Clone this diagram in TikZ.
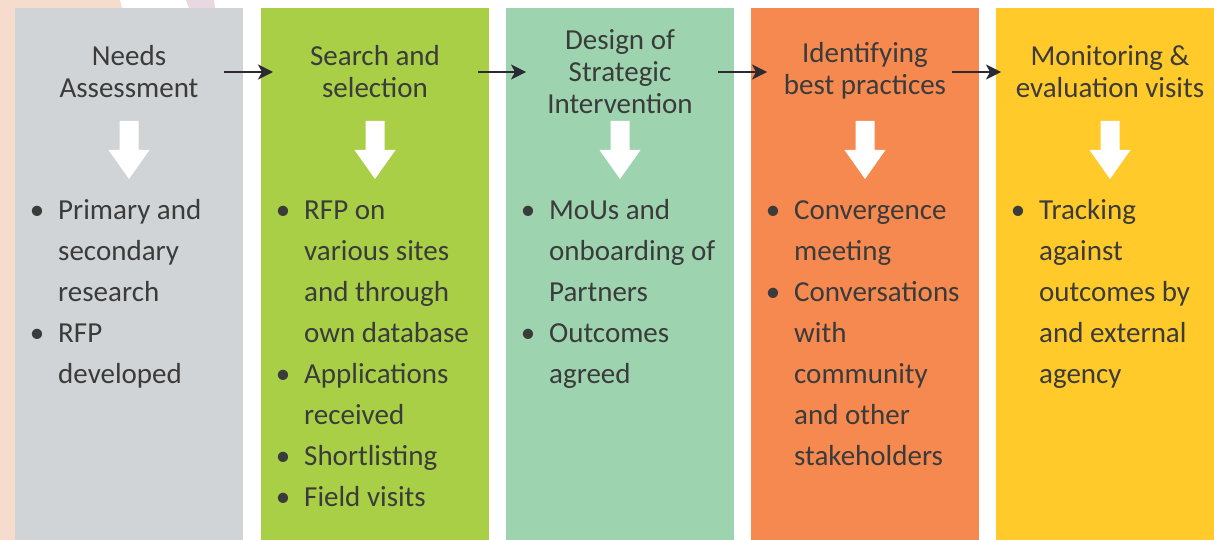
\documentclass[tikz,border=0pt]{standalone}
\usepackage{fontspec}
\setmainfont{Carlito}
\usetikzlibrary{arrows.meta}

\definecolor{peach}{HTML}{F6DCCC}
\definecolor{pinkish}{HTML}{E8D8E0}
\definecolor{colgray}{HTML}{D0D4D7}
\definecolor{colgreen}{HTML}{A9CF46}
\definecolor{colmint}{HTML}{9DD4AF}
\definecolor{colorange}{HTML}{F5894F}
\definecolor{colyellow}{HTML}{FFCA2A}
\definecolor{txt}{HTML}{3B3B3B}
\definecolor{arr}{HTML}{2B2A33}

\tikzset{
	head/.style={font=\fontsize{29}{32}\selectfont, text=txt, align=center, inner sep=0pt},
	items/.style={font=\fontsize{29}{41}\selectfont, text=txt, align=left, inner sep=0pt, anchor=north west},
	flow/.style={draw=arr, line width=1.3pt, -{Stealth[length=15pt,width=15pt,inset=4pt]}},
}
\newcommand\bl{\makebox[42pt]{\textbullet}}
\newcommand\ind{\hspace*{42pt}}

\begin{document}
\begin{tikzpicture}[x=1pt,y=-1pt]
	\useasboundingbox (0,0) rectangle (1214,540);
	
	%background
	\fill[peach] (0,0)--(120,0)--(122,8)--(15,8)--(15,540)--(0,540)--cycle;
	\fill[pinkish] (186,0)--(214,0)--(215,8)--(189,8)--cycle;
	
	%columns
	\fill[colgray]   (15,8)  rectangle (243,540);
	\fill[colgreen]  (261,8) rectangle (489,540);
	\fill[colmint]   (506,8) rectangle (734,540);
	\fill[colorange] (751,8) rectangle (979,540);
	\fill[colyellow] (996,8) rectangle (1224,540);
	
	%white arrows
	\foreach \cx in {129,375,620,865,1110}
		\fill[white] (\cx-9.5,121)--(\cx+9.5,121)--(\cx+9.5,150)--(\cx+20.5,150)
			--(\cx,179)--(\cx-20.5,150)--(\cx-9.5,150)--cycle;
	
	%titles
	\node[head] (needs)  at (129,71.5)  {Needs\\Assessment};
	\node[head] (search) at (375,71.5)  {Search and\\selection};
	\node[head] (design) at (620,72)    {Design of\\Strategic\\Intervention};
	\node[head] (ident)  at (865,70.5)  {Identifying\\best practices};
	\node[head] (monit)  at (1110,71.5) {Monitoring \&\\evaluation visits};
	
	%arrows
	\coordinate (needs-out)  at (224,72);
	\coordinate (search-in)  at (273,72);
	\coordinate (search-out) at (478,72);
	\coordinate (design-in)  at (526,72);
	\coordinate (design-out) at (718,72);
	\coordinate (ident-in)   at (767,72);
	\coordinate (ident-out)  at (952,72);
	\coordinate (monit-in)   at (1001,72);
	\draw[flow] (needs-out)--(search-in);
	\draw[flow] (search-out)--(design-in);
	\draw[flow] (design-out)--(ident-in);
	\draw[flow] (ident-out)--(monit-in);
	
	%lists
	\node[items] (needs-list) at (16,190.5)
		{\strut\bl Primary and\\ \ind secondary\\ \ind research\\ \bl RFP\\ \ind developed};
	\node[items] (search-list) at (262,190.5)
		{\strut\bl RFP on\\ \ind various sites\\ \ind and through\\ \ind own database\\
		 \bl Applications\\ \ind received\\ \bl Shortlisting\\ \bl Field visits};
	\node[items] (design-list) at (507,190.5)
		{\strut\bl MoUs and\\ \ind onboarding of\\ \ind Partners\\ \bl Outcomes\\ \ind agreed};
	\node[items] (ident-list) at (752,190.5)
		{\strut\bl Convergence\\ \ind meeting\\ \bl Conversations\\ \ind with\\
		 \ind community\\ \ind and other\\ \ind stakeholders};
	\node[items] (monit-list) at (997,190.5)
		{\strut\bl Tracking\\ \ind against\\ \ind outcomes by\\ \ind and external\\ \ind agency};
\end{tikzpicture}
\end{document}
